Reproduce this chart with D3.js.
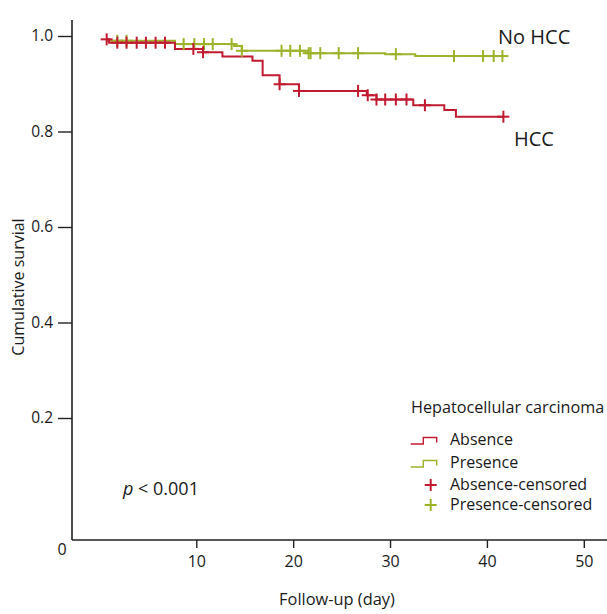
<!DOCTYPE html>
<html><head><meta charset="utf-8">
<script src="https://cdn.jsdelivr.net/npm/d3@7"></script>
<style>
html,body{margin:0;padding:0;background:#fff;}
text{font-family:"Open Sans",sans-serif;fill:#1a1a1a;}
</style></head>
<body><svg id="chart" width="607" height="614"></svg>
<script>
// Step data: [day, survival] — survival holds from this day until the next step
const absenceSteps = [[0.75,0.993],[1.0,0.986],[7.8,0.973],[10.7,0.966],[12.7,0.957],[15.8,0.948],[16.85,0.918],[18.6,0.899],[20.6,0.885],[27.6,0.876],[28.6,0.867],[32.4,0.855],[35.6,0.845],[36.8,0.831]];
const absenceEnd = 41.8;
const presenceSteps = [[0.75,0.990],[7.8,0.983],[13.9,0.979],[14.7,0.969],[21.5,0.964],[29.5,0.962],[32.6,0.958]];
const presenceEnd = 41.8;
const absenceCensored = [0.75,1.85,2.8,3.85,4.8,5.8,6.77,9.7,10.7,18.6,20.6,26.7,27.7,28.6,29.5,30.6,31.7,33.6,41.7];
const presenceCensored = [1.85,2.8,8.7,9.8,10.8,11.7,13.65,14.7,18.8,19.7,20.7,21.6,21.8,22.8,24.7,26.7,30.6,36.6,39.6,40.7,41.6];
const xTicks = [10,20,30,40,50];
const yTicks = [0.2,0.4,0.6,0.8,1.0];
const legendLabels = ["Absence","Presence","Absence-censored","Presence-censored"];

const RED = "#c11b32", GREEN = "#9db32c";
const svg = d3.select("#chart");
const x = d3.scaleLinear().domain([0,50]).range([99.4,583.8]);
const y = d3.scaleLinear().domain([0,1]).range([513.5,36]);
const axisX = 72, axisY = 540;

// axes lines
svg.append("line").attr("x1",axisX).attr("x2",axisX).attr("y1",20).attr("y2",axisY).attr("stroke","#222").attr("stroke-width",1.6);
svg.append("line").attr("x1",axisX).attr("x2",607).attr("y1",axisY).attr("y2",axisY).attr("stroke","#222").attr("stroke-width",1.6);

// y axis
const ya = svg.append("g").attr("transform",`translate(${axisX},0)`)
  .call(d3.axisLeft(y).tickValues(yTicks).tickFormat(d3.format(".1f")).tickSize(14).tickPadding(5));
ya.select(".domain").remove();
ya.selectAll(".tick line").attr("stroke","#222").attr("stroke-width",1.4);
ya.selectAll(".tick text").attr("font-size",15.5).attr("font-family","Open Sans").attr("fill","#1a1a1a");

// x axis
const xa = svg.append("g").attr("transform",`translate(0,${axisY})`)
  .call(d3.axisBottom(x).tickValues(xTicks).tickSize(8).tickPadding(8));
xa.select(".domain").remove();
xa.selectAll(".tick line").attr("stroke","#222").attr("stroke-width",1.4);
xa.selectAll(".tick text").attr("font-size",16).attr("font-family","Open Sans").attr("fill","#1a1a1a");

svg.append("text").attr("x",62).attr("y",555).attr("text-anchor","middle").attr("font-size",16).text("0");

svg.append("text").attr("x",337).attr("y",605).attr("text-anchor","middle").attr("font-size",16.4).text("Follow-up (day)");
svg.append("text").attr("transform","translate(24,287) rotate(-90)").attr("text-anchor","middle").attr("font-size",16).text("Cumulative survial");

function stepPath(steps,end){
  const pts=[];
  steps.forEach((s,i)=>{
    const nx = i<steps.length-1 ? steps[i+1][0] : end;
    pts.push([s[0],s[1]]); pts.push([nx,s[1]]);
  });
  return d3.line().x(d=>x(d[0])).y(d=>y(d[1]))(pts);
}
function survAt(steps,t){
  let v=steps[0][1];
  for(const s of steps){ if(s[0]<=t+1e-9) v=s[1]; }
  return v;
}
function plus(g,cx,cy,color,half){
  g.append("line").attr("x1",cx-half).attr("x2",cx+half).attr("y1",cy).attr("y2",cy).attr("stroke",color).attr("stroke-width",2);
  g.append("line").attr("x1",cx).attr("x2",cx).attr("y1",cy-half).attr("y2",cy+half).attr("stroke",color).attr("stroke-width",2);
}

svg.append("path").attr("d",stepPath(presenceSteps,presenceEnd)).attr("fill","none").attr("stroke",GREEN).attr("stroke-width",2);
svg.append("path").attr("d",stepPath(absenceSteps,absenceEnd)).attr("fill","none").attr("stroke",RED).attr("stroke-width",2);
const cg = svg.append("g");
presenceCensored.forEach(t=>plus(cg,x(t),y(survAt(presenceSteps,t)),GREEN,6));
absenceCensored.forEach(t=>plus(cg,x(t),y(survAt(absenceSteps,t)),RED,6));

svg.append("text").attr("x",498).attr("y",44).attr("font-size",20).text("No HCC");
svg.append("text").attr("x",514).attr("y",146).attr("font-size",20).text("HCC");

const pt = svg.append("text").attr("x",123).attr("y",495).attr("font-size",18);
pt.append("tspan").attr("font-style","italic").text("p");
pt.append("tspan").text(" < 0.001");

// legend
const lg = svg.append("g");
lg.append("text").attr("x",411).attr("y",413).attr("font-size",16.2).text("Hepatocellular carcinoma");
const lcol=[RED,GREEN];
[0,1].forEach(i=>{
  const yy = 444 + i*23;
  lg.append("path").attr("d",`M410.7,${yy}H423.3V${yy-6.5}H436.7V${yy-1.5}`).attr("fill","none").attr("stroke",lcol[i]).attr("stroke-width",1.4);
  lg.append("text").attr("x",450).attr("y",yy+1).attr("font-size",16).text(legendLabels[i]);
});
[0,1].forEach(i=>{
  const yy = 485 + i*20;
  plus(lg,430.7,yy,lcol[i],6);
  lg.append("text").attr("x",450).attr("y",yy+5).attr("font-size",16).text(legendLabels[i+2]);
});
</script></body></html>
